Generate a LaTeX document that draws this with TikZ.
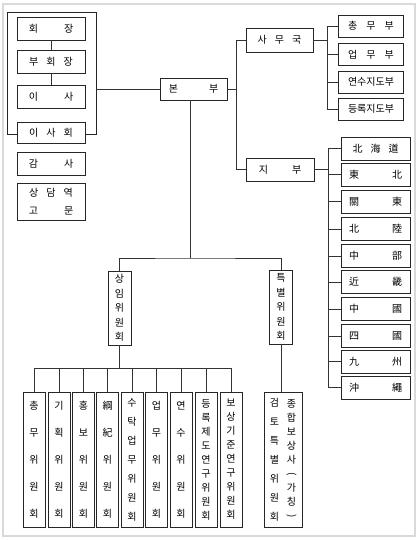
\documentclass[tikz,border=0pt]{standalone}
\usepackage{graphicx}
\usepackage{fontspec}
\setmainfont{Noto Sans CJK KR}
\usetikzlibrary{positioning}

\begin{document}
\begin{tikzpicture}[x=1pt,y=-1pt,font=\fontsize{10}{12}\selectfont,
  box/.style={draw=black!85,line width=0.8pt,fill=white,inner sep=0pt,
              minimum width=68,minimum height=23},
  dbox/.style={box,minimum width=69,minimum height=23},
  link/.style={draw=black!80,line width=0.8pt},
  vbox/.style={box,minimum width=22,minimum height=135,align=center}]

  \useasboundingbox (0,0) rectangle (420,541);
  \draw[black!15,line width=1.5pt] (3,4) rectangle (415,536);

  % board group
  \node[box,minimum width=89,minimum height=122] (board) at (51.5,73) {};
  \node[box] (hoe) at (51,28.5) {회\hspace{26pt}장};
  \node[box] (buhoe) at (51,61.5) {부\hspace{8pt}회\hspace{8pt}장};
  \node[box] (isa) at (51,96.5) {이\hspace{26pt}사};
  \node[box,minimum height=21] (isahoe) at (51,132.5) {이\hspace{8pt}사\hspace{8pt}회};
  \node[box] (gamsa) at (51,163.5) {감\hspace{26pt}사};
  \node[box,minimum height=37,align=center,font=\fontsize{10}{18}\selectfont]
    (gomun) at (51,201.5) {상\hspace{8pt}담\hspace{8pt}역\\고\hspace{26pt}문};
  \draw[link] (hoe) -- (buhoe);
  \draw[link] (buhoe) -- (isa);

  % head office
  \node[box,minimum width=67,minimum height=22] (bonbu) at (193.5,89) {본\hspace{31pt}부};
  \draw[link] (board.east |- bonbu.west) -- (bonbu.west);
  \coordinate (rb) at (236.5,89);
  \coordinate (hb) at (190,258);
  \draw[link] (bonbu.east) -- (rb);

  % secretariat
  \node[box,minimum width=67,minimum height=24] (samuguk) at (279.5,40)
    {사\hspace{8pt}무\hspace{8pt}국};
  \node[box,minimum width=68,minimum height=23] (jibu) at (280,169.5)
    {지\hspace{24pt}부};
  \draw[link] (samuguk.west) -| (rb) |- (jibu.west);

  \coordinate (stop) at (327,26);
  \foreach \t/\y [count=\i] in {총\hspace{9pt}무\hspace{9pt}부/26,
      업\hspace{9pt}무\hspace{9pt}부/54.5,연수지도부/82,등록지도부/109} {
    \node[box,minimum width=65,minimum height=22] (dept\i) at (371,\y) {\t};
    \draw[link] (dept\i.west) -| (stop);
  }
  \draw[link] (samuguk.east) -- (samuguk.east -| stop);

  % branches
  \coordinate (dtop) at (328,148.5);
  \foreach \t/\y [count=\i] in {北\hspace{8pt}海\hspace{8pt}道/148.5,
      東\hspace{33pt}北/174.5,關\hspace{33pt}東/201.5,北\hspace{33pt}陸/229,
      中\hspace{33pt}部/256,近\hspace{33pt}畿/282,中\hspace{33pt}國/309,
      四\hspace{33pt}國/336,九\hspace{33pt}州/361.5,沖\hspace{33pt}繩/387.5} {
    \node[dbox] (d\i) at (375.5,\y) {\t};
    \draw[link] (d\i.west) -| (dtop);
  }
  \draw[link] (jibu.east) -- (jibu.east -| dtop);

  % committees
  \node[box,minimum width=23,minimum height=74,align=center,
        font=\fontsize{10}{14.5}\selectfont] (sangim) at (119.5,308)
    {상\\임\\위\\원\\회};
  \node[box,minimum width=23,minimum height=74,align=center,
        font=\fontsize{10}{14.5}\selectfont] (teuk) at (281,307)
    {특\\별\\위\\원\\회};
  \draw[link] (hb) -- (hb |- bonbu.south);
  \draw[link] (sangim.north) |- (hb) -| (teuk.north);

  \coordinate (cbus) at (119.5,368);
  \foreach \t/\x/\s [count=\i] in {총\\무\\위\\원\\회/34/27,
      기\\획\\위\\원\\회/59/27,홍\\보\\위\\원\\회/83.5/27,
      綱\\紀\\위\\원\\회/107.5/27,수\\탁\\업\\무\\위\\원\\회/132/19,
      업\\무\\위\\원\\회/156.5/27,연\\수\\위\\원\\회/181/27,
      등\\록\\제\\도\\연\\구\\위\\원\\회/206/14,
      보\\상\\기\\준\\연\\구\\위\\원\\회/231/14} {
    \node[vbox,font={\fontsize{10}{\s}\selectfont}] (c\i) at (\x,459.5) {\t};
    \draw[link] (c\i.north) |- (cbus);
  }
  \draw[link] (sangim.south) -- (cbus);

  \node[vbox,minimum width=38] (tb) at (283,459.5) {};
  \node[align=center,inner sep=0pt,font=\fontsize{10}{14}\selectfont]
    (tbR) at ([xshift=8.5]tb.center)
    {종\\합\\보\\상\\사\\\rotatebox[origin=c]{-90}{(}\\가\\칭\\\rotatebox[origin=c]{-90}{)}};
  \node[align=center,inner sep=0pt,font=\fontsize{10}{19}\selectfont]
    (tbL) at ([xshift=-8.5]tb.center) {검\\토\\특\\별\\위\\원\\회};
  \draw[link] (teuk.south) -- (teuk.south |- tb.north);

\end{tikzpicture}
\end{document}
